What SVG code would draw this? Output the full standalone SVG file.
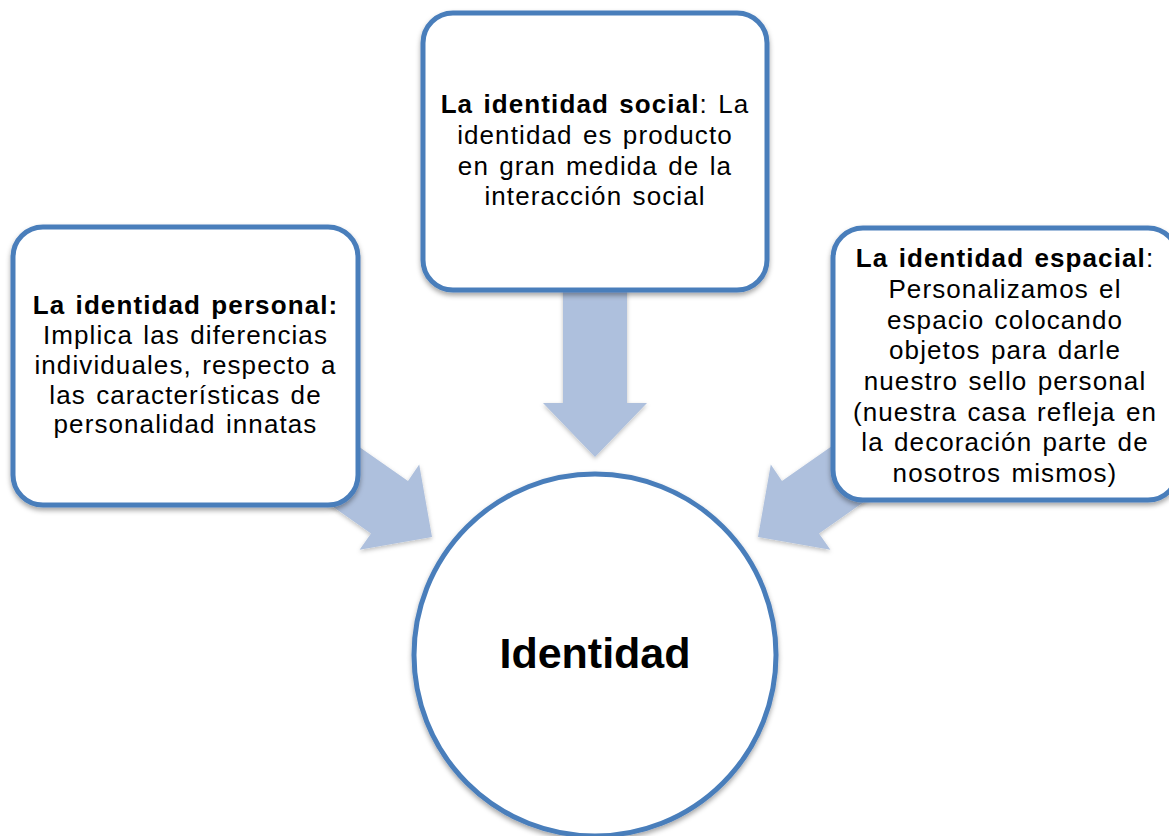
<svg xmlns="http://www.w3.org/2000/svg" width="1169" height="836" viewBox="0 0 1169 836">
  <defs>
    <filter id="shadow" x="-10%" y="-10%" width="120%" height="125%">
      <feDropShadow dx="0" dy="3" stdDeviation="2.5" flood-color="#000" flood-opacity="0.35"/>
    </filter>
    <filter id="ashadow" x="-10%" y="-10%" width="120%" height="125%">
      <feDropShadow dx="0" dy="2" stdDeviation="2" flood-color="#000" flood-opacity="0.25"/>
    </filter>
  </defs>
  <style>
    .box { fill: #ffffff; stroke: #4A7EBB; stroke-width: 5; }
    .arrow { fill: #AEC0DD; }
    .t { font-family: "Liberation Sans", Arial, sans-serif; font-size: 26px; fill: #000; text-anchor: middle; letter-spacing: 1.1px; word-spacing: 2px; }
    .b { font-weight: bold; }
    .big { font-family: "Liberation Sans", Arial, sans-serif; font-size: 43px; font-weight: bold; fill: #000; text-anchor: middle; }
  </style>
  <rect width="1169" height="836" fill="#ffffff"/>

  <g id="connectors">
    <polygon class="arrow" filter="url(#ashadow)" points="563,250 627,250 627,403 647,403 595,457 543,403 563,403"/>
    <polygon class="arrow" filter="url(#ashadow)" points="264.6,458.8 371,533.4 359.6,549.8 432,537 419.2,464.6 408,481 301.4,406.4"/>
    <polygon class="arrow" filter="url(#ashadow)" points="925.4,458.8 819,533.4 830.4,549.8 758,537 770.8,464.6 782,481 888.6,406.4"/>
  </g>

  <g id="node-social">
    <rect class="box" filter="url(#shadow)" x="423" y="13" width="344" height="277" rx="30" ry="30"/>
    <text class="t" x="595" y="113"><tspan class="b">La identidad social</tspan>: La</text>
    <text class="t" x="595" y="144">identidad es producto</text>
    <text class="t" x="595" y="175">en gran medida de la</text>
    <text class="t" x="595" y="205">interacción social</text>
  </g>

  <g id="node-personal">
    <rect class="box" filter="url(#shadow)" x="13" y="227" width="345" height="278" rx="30" ry="30"/>
    <text class="t b" x="185.5" y="314">La identidad personal:</text>
    <text class="t" x="185.5" y="344">Implica las diferencias</text>
    <text class="t" x="185.5" y="374">individuales, respecto a</text>
    <text class="t" x="185.5" y="404">las características de</text>
    <text class="t" x="185.5" y="433">personalidad innatas</text>
  </g>

  <g id="node-espacial">
    <rect class="box" filter="url(#shadow)" x="833" y="228" width="345" height="272" rx="30" ry="30"/>
    <text class="t" x="1005" y="267"><tspan class="b">La identidad espacial</tspan>:</text>
    <text class="t" x="1005" y="298">Personalizamos el</text>
    <text class="t" x="1005" y="329">espacio colocando</text>
    <text class="t" x="1005" y="359">objetos para darle</text>
    <text class="t" x="1005" y="390">nuestro sello personal</text>
    <text class="t" x="1005" y="421">(nuestra casa refleja en</text>
    <text class="t" x="1005" y="451">la decoración parte de</text>
    <text class="t" x="1005" y="482">nosotros mismos)</text>
  </g>

  <g id="node-identidad">
    <circle class="box" filter="url(#shadow)" cx="595" cy="655" r="181"/>
    <text class="big" x="595" y="668">Identidad</text>
  </g>
</svg>
